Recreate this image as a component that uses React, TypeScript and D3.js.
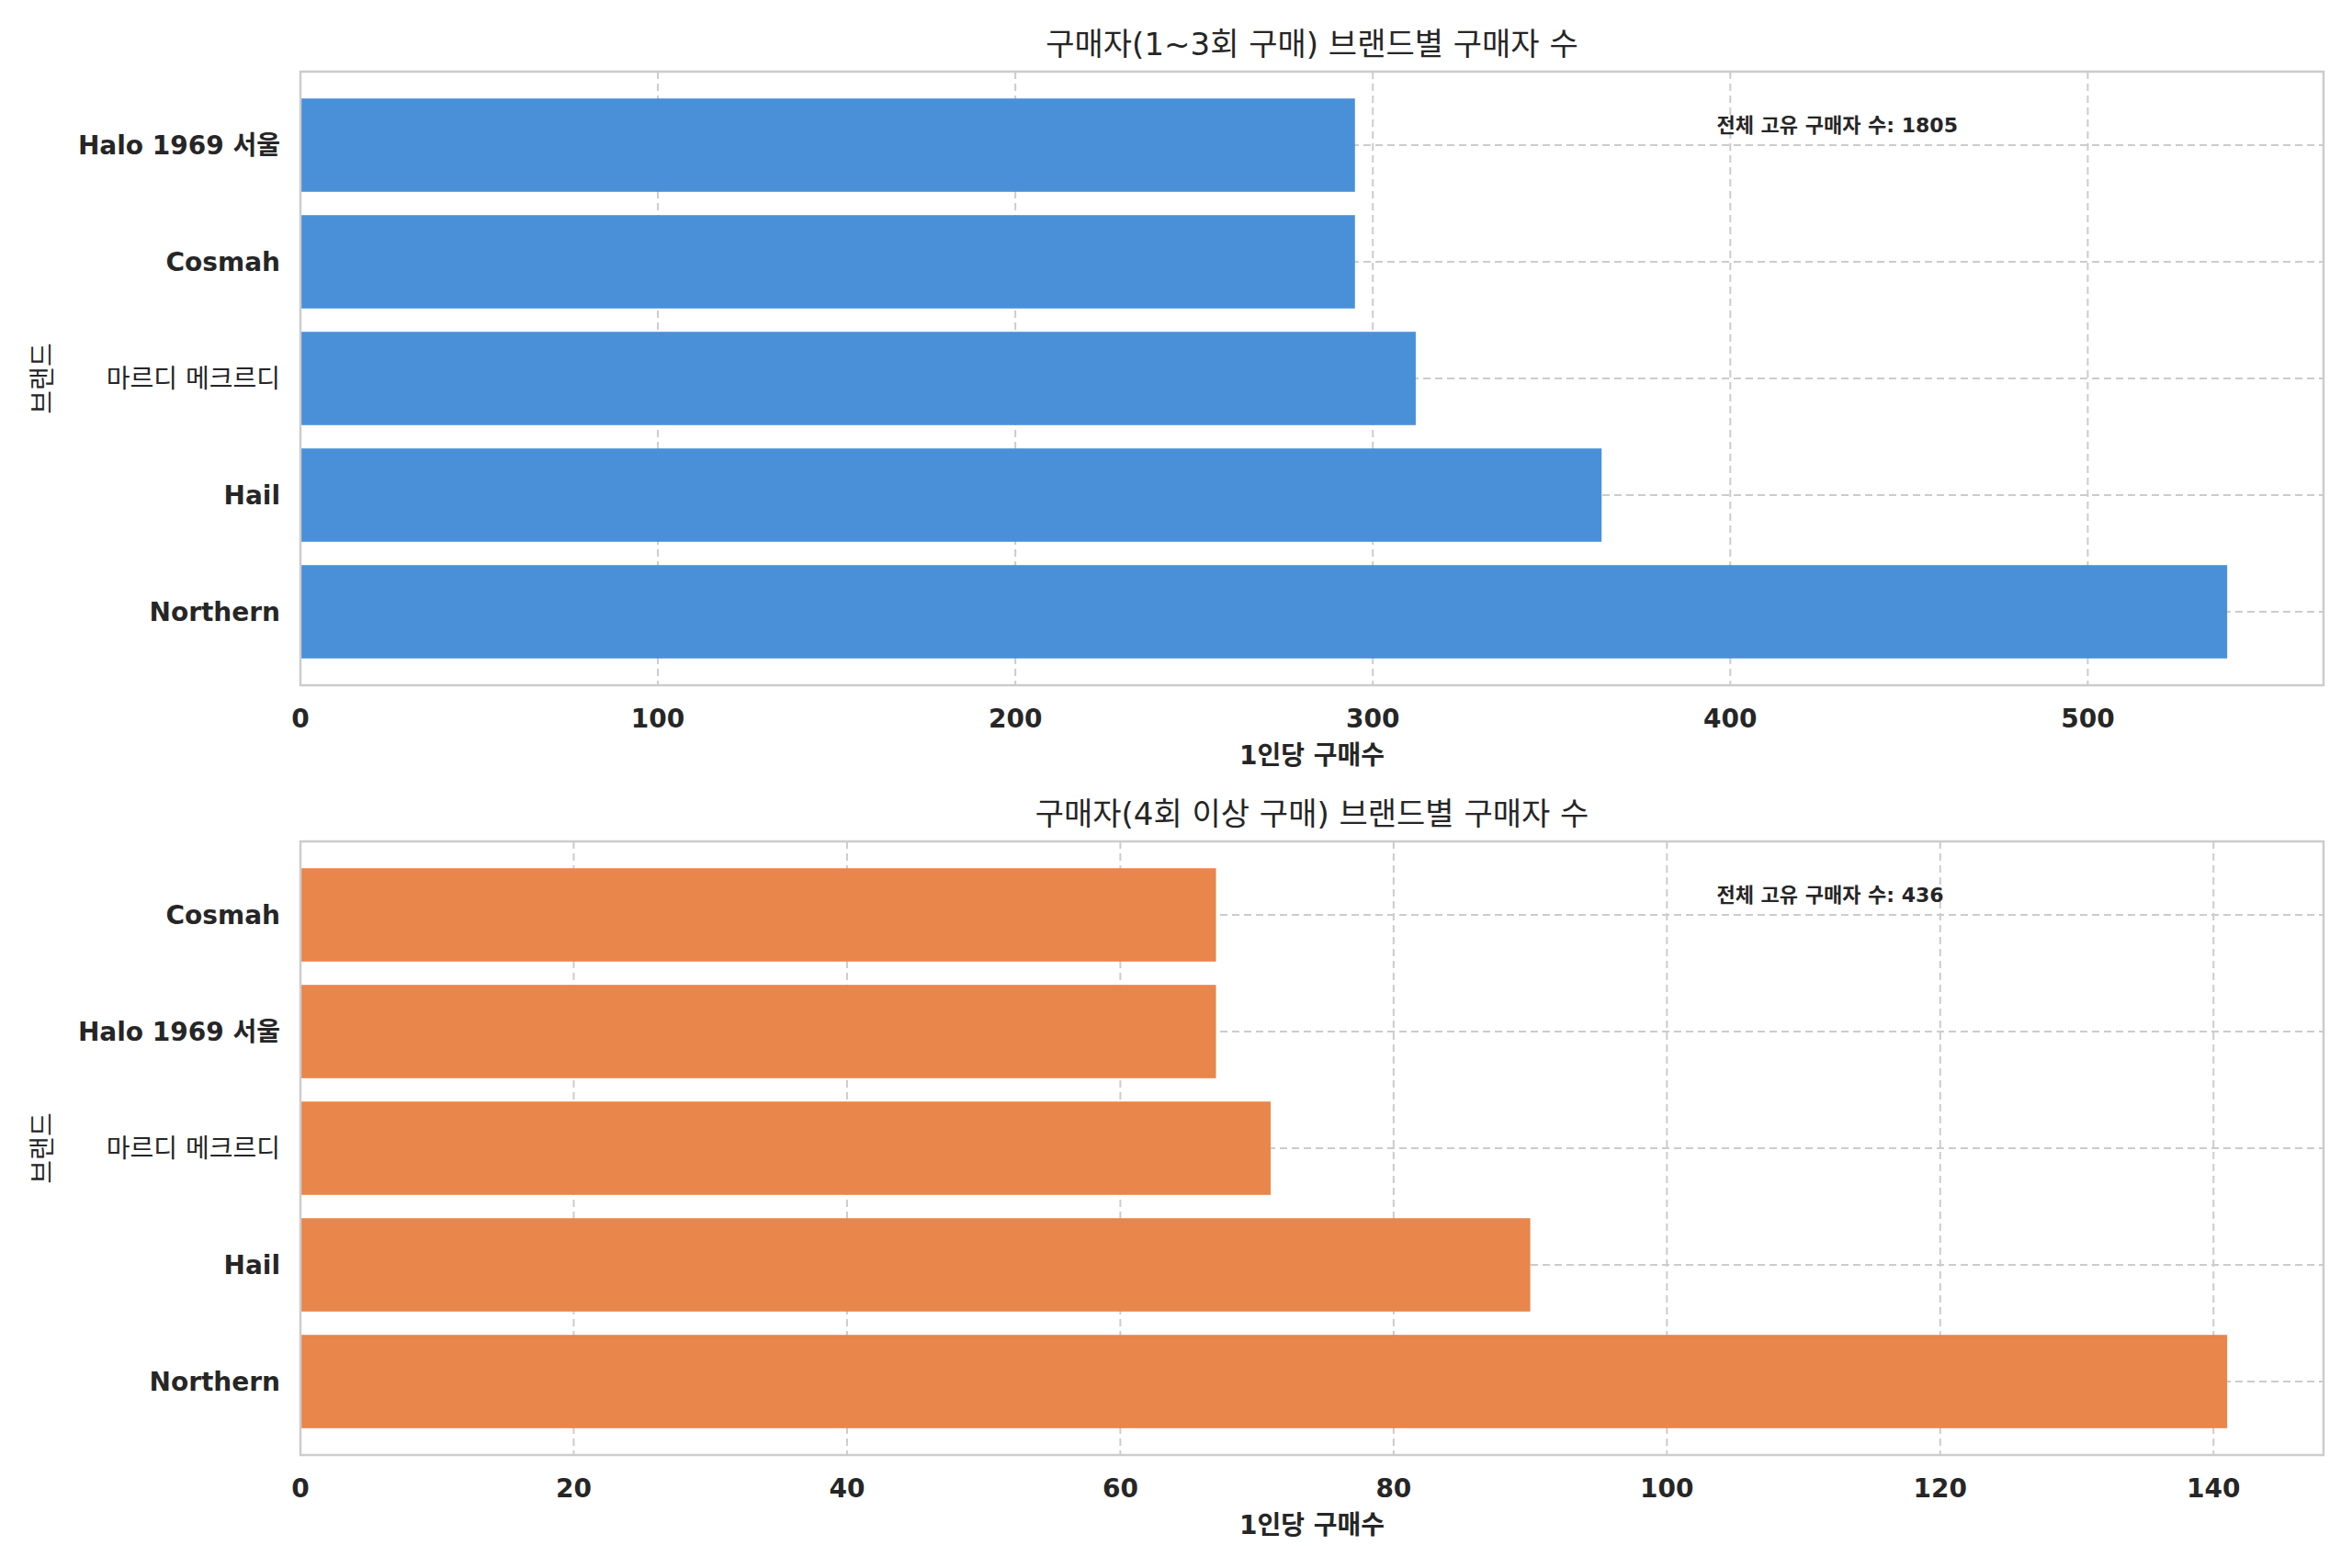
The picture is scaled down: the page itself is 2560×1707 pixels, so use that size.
import { useEffect } from 'react';
import * as d3 from 'd3';

// categories, bottom to top
const brandsTop = ['Northern', 'Hail', '마르디 메크르디', 'Cosmah', 'Halo 1969 서울'];
const valuesTop = [539, 364, 312, 295, 295];
const brandsBottom = ['Northern', 'Hail', '마르디 메크르디', 'Halo 1969 서울', 'Cosmah'];
const valuesBottom = [141, 90, 71, 67, 67];
const ticksTop = [0, 100, 200, 300, 400, 500];
const ticksBottom = [0, 20, 40, 60, 80, 100, 120, 140];
const titles = ['구매자(1~3회 구매) 브랜드별 구매자 수', '구매자(4회 이상 구매) 브랜드별 구매자 수'];
const totals = [1805, 436];

const W = 2560;
const H = 1707;
const FONT = '"DejaVu Sans", "Noto Sans CJK KR", sans-serif';

const Panel = ({ top, brands, values, ticks, color, title, total }) => {
  const left = 327;
  const right = 2529;
  const bottom = top + 668;
  const x = d3.scaleLinear().domain([0, d3.max(values) * 1.05]).range([left, right]);
  const y = d3.scaleLinear().domain([-0.63, brands.length - 1 + 0.63]).range([bottom, top]);
  const h = y(0) - y(0.8);
  return (
    <g fontFamily={FONT}>
      <text x={(left + right) / 2} y={top - 18} textAnchor="middle" fontSize={34} fill="#262626">{title}</text>
      {ticks.map(t => (
        <line key={'g' + t} x1={x(t)} x2={x(t)} y1={top} y2={bottom} stroke="#cccccc" strokeWidth={2} strokeDasharray="8,5" />
      ))}
      {brands.map((b, i) => (
        <line key={'h' + b} x1={left} x2={right} y1={y(i)} y2={y(i)} stroke="#cccccc" strokeWidth={2} strokeDasharray="8,5" />
      ))}
      {values.map((v, i) => (
        <rect key={'r' + i} x={x(0)} y={y(i) - h / 2} width={x(v) - x(0)} height={h} fill={color} />
      ))}
      <rect x={left} y={top} width={right - left} height={bottom - top} fill="none" stroke="#cccccc" strokeWidth={2.5} />
      {ticks.map(t => (
        <text key={'t' + t} x={x(t)} y={bottom + 46} textAnchor="middle" fontSize={28} fontWeight="bold" fill="#262626">{t}</text>
      ))}
      {brands.map((b, i) => (
        <text key={'l' + b} x={left - 22} y={y(i)} dy="0.35em" textAnchor="end" fontSize={28}
          fontWeight={/[가-힣]/.test(b) && !/Halo/.test(b) ? 'normal' : 'bold'} fill="#262626">{b}</text>
      ))}
      <text x={(left + right) / 2} y={bottom + 86} textAnchor="middle" fontSize={28} fontWeight="bold" fill="#262626">1인당 구매수</text>
      <text transform={`translate(46,${(top + bottom) / 2}) rotate(-90)`} textAnchor="middle" dy="0.35em" fontSize={28} fill="#262626">브랜드</text>
      <text x={left + 0.7 * (right - left)} y={top + 0.088 * (bottom - top)} dy="0.35em" fontSize={22} fontWeight="bold" fill="#262626">{`전체 고유 구매자 수: ${total}`}</text>
    </g>
  );
};

export default function App() {
  useEffect(() => { document.body.style.margin = '0'; }, []);
  return (
    <svg width={W} height={H} style={{ display: 'block', background: '#fff' }}>
      <Panel top={78} brands={brandsTop} values={valuesTop} ticks={ticksTop} color="#4a90d9" title={titles[0]} total={totals[0]} />
      <Panel top={916} brands={brandsBottom} values={valuesBottom} ticks={ticksBottom} color="#e8864c" title={titles[1]} total={totals[1]} />
    </svg>
  );
}
